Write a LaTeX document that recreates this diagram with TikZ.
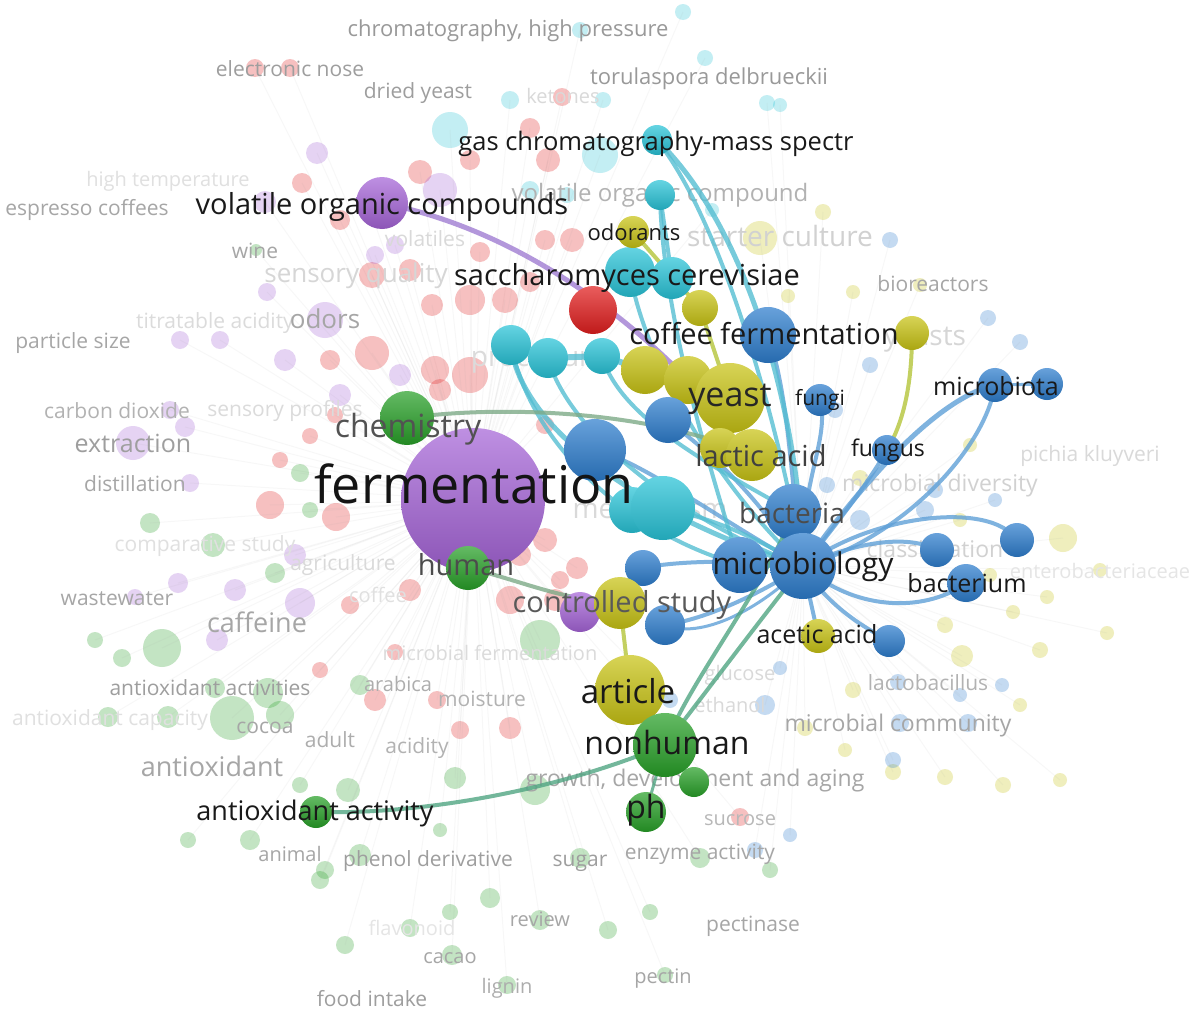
\documentclass[tikz,border=0pt]{standalone}
\usepackage{fontspec}
\setmainfont{Open Sans}
\newcommand\fsz[1]{\fontsize{#1}{#1}\selectfont}
\definecolor{cpur}{RGB}{165,100,215}
\definecolor{cgreen}{RGB}{40,160,40}
\definecolor{cred}{RGB}{225,30,30}
\definecolor{ccyan}{RGB}{40,195,215}
\definecolor{cyel}{RGB}{200,195,20}
\definecolor{cblue}{RGB}{45,125,205}
\definecolor{eblue}{RGB}{95,160,215}
\definecolor{ecyan}{RGB}{85,190,210}
\definecolor{eteal}{RGB}{80,165,130}
\definecolor{epur}{RGB}{160,125,210}
\definecolor{eyel}{RGB}{185,200,70}
\definecolor{egray}{RGB}{125,170,135}
\pgfdeclarelayer{back}\pgfdeclarelayer{mid}\pgfsetlayers{back,mid,main}
\begin{document}
\begin{tikzpicture}[x=1pt,y=-1pt,
  bub/.style 2 args={circle,inner sep=0pt,minimum size=#2,top color=#1!72!white,bottom color=#1!85!black,draw=none},
  fad/.style 2 args={circle,inner sep=0pt,minimum size=#2,fill=#1,fill opacity=0.28,draw=none},
  tx/.style={inner sep=0pt,anchor=base},
  eb/.style={draw=eblue,draw opacity=0.8,line cap=round},
  ec/.style={draw=ecyan,draw opacity=0.8,line cap=round},
  bgl/.style={draw=black!40,draw opacity=0.07,line width=1pt}]
\useasboundingbox (0,0) rectangle (1203,1009);
% ---------- main nodes ----------
\node[bub={cpur}{144pt}] (ferm) at (473,500) {};
\node[bub={cpur}{52pt}] (voc) at (382,203) {};
\node[bub={cpur}{40pt}] (pur2) at (580,612) {};
\node[bub={cgreen}{54pt}] (chem) at (407,418) {};
\node[bub={cgreen}{44pt}] (hum) at (468,568) {};
\node[bub={cred}{48pt}] (red) at (593,310) {};
\node[bub={ccyan}{30pt}] (c1) at (657,140) {};
\node[bub={ccyan}{30pt}] (c2) at (660,195) {};
\node[bub={ccyan}{50pt}] (c3) at (630,272) {};
\node[bub={ccyan}{42pt}] (c4) at (672,278) {};
\node[bub={ccyan}{40pt}] (c5) at (511,345) {};
\node[bub={ccyan}{40pt}] (c6) at (548,358) {};
\node[bub={ccyan}{36pt}] (c7) at (602,356) {};
\node[bub={cyel}{32pt}] (y1) at (633,232) {};
\node[bub={cyel}{36pt}] (y2) at (700,308) {};
\node[bub={cyel}{34pt}] (y3) at (912,333) {};
\node[bub={cyel}{48pt}] (y4) at (645,370) {};
\node[bub={cyel}{48pt}] (y5) at (688,380) {};
\node[bub={cblue}{56pt}] (b1) at (768,335) {};
\node[bub={cblue}{62pt}] (b2) at (595,450) {};
\node[bub={cblue}{46pt}] (b3) at (668,420) {};
\node[bub={cyel}{70pt}] (y6) at (730,398) {};
\node[bub={cyel}{40pt}] (y8) at (720,448) {};
\node[bub={cyel}{52pt}] (y7) at (752,455) {};
\node[bub={ccyan}{46pt}] (c9) at (632,510) {};
\node[bub={ccyan}{64pt}] (c8) at (663,508) {};
\node[bub={cblue}{32pt}] (b4) at (820,400) {};
\node[bub={cblue}{30pt}] (b5) at (887,450) {};
\node[bub={cblue}{34pt}] (b6) at (995,385) {};
\node[bub={cblue}{32pt}] (b7) at (1047,384) {};
\node[bub={cblue}{56pt}] (b8) at (793,512) {};
\node[bub={cblue}{56pt}] (b10) at (740,565) {};
\node[bub={cblue}{66pt}] (b9) at (803,566) {};
\node[bub={cblue}{36pt}] (b11) at (643,568) {};
\node[bub={cblue}{34pt}] (b13) at (937,550) {};
\node[bub={cblue}{34pt}] (b14) at (1017,540) {};
\node[bub={cblue}{38pt}] (b15) at (966,583) {};
\node[bub={cblue}{32pt}] (b16) at (889,641) {};
\node[bub={cyel}{52pt}] (y9) at (620,603) {};
\node[bub={cblue}{40pt}] (b12) at (665,625) {};
\node[bub={cyel}{34pt}] (y11) at (818,636) {};
\node[bub={cyel}{70pt}] (y10) at (630,690) {};
\node[bub={cgreen}{64pt}] (nonh) at (665,745) {};
\node[bub={cgreen}{30pt}] (gs) at (694,782) {};
\node[bub={cgreen}{40pt}] (ph) at (646,812) {};
\node[bub={cgreen}{32pt}] (antiox) at (316,812) {};
% ---------- faded background ----------
\begin{pgfonlayer}{back}
\fill[white] (0,0) rectangle (1203,1009);
\foreach \x/\y/\d/\c [count=\i] in {
255/68/18/cred,290/68/18/cred,562/97/18/cred,548/160/24/cred,530/128/20/cred,470/160/20/cred,302/183/20/cred,340/220/20/cred,370/210/22/cred,420/172/24/cred,372/275/26/cred,410/270/22/cred,432/305/22/cred,470/300/30/cred,505/300/26/cred,530/282/20/cred,545/240/20/cred,572/240/24/cred,480/252/20/cred,440/390/22/cred,470/375/36/cred,435/370/28/cred,372/353/34/cred,330/360/20/cred,335/415/16/cred,310/436/16/cred,270/505/28/cred,336/517/28/cred,280/460/16/cred,500/520/20/cred,520/555/22/cred,545/540/24/cred,577/568/22/cred,555/600/22/cred,510/600/28/cred,410/590/22/cred,350/605/18/cred,375/700/22/cred,437/700/18/cred,460/730/18/cred,510/728/22/cred,320/670/16/cred,395/652/16/cred,740/817/18/cred,560/580/18/cred,545/425/18/cred,
317/153/22/cpur,265/202/22/cpur,267/292/18/cpur,180/340/18/cpur,220/340/18/cpur,325/320/36/cpur,285/360/22/cpur,340/395/22/cpur,400/375/22/cpur,170/410/18/cpur,133/443/34/cpur,185/427/20/cpur,190/483/18/cpur,295/555/22/cpur,235/590/22/cpur,300/603/30/cpur,178/583/20/cpur,135/597/16/cpur,217/640/22/cpur,440/190/34/cpur,375/255/18/cpur,395/245/18/cpur,
150/523/20/cgreen,213/545/24/cgreen,275/573/20/cgreen,162/648/38/cgreen,122/658/18/cgreen,95/640/16/cgreen,232/718/44/cgreen,268/693/30/cgreen,215/688/20/cgreen,280/715/28/cgreen,108/717/20/cgreen,168/717/22/cgreen,360/685/20/cgreen,540/640/40/cgreen,535/790/30/cgreen,455/778/22/cgreen,348/790/24/cgreen,300/785/16/cgreen,325/870/18/cgreen,250/840/20/cgreen,188/840/16/cgreen,360/855/22/cgreen,320/880/18/cgreen,410/928/18/cgreen,345/945/18/cgreen,452/955/20/cgreen,507/985/18/cgreen,540/920/20/cgreen,490/898/20/cgreen,450/912/16/cgreen,608/930/18/cgreen,650/912/16/cgreen,580/858/20/cgreen,665/975/16/cgreen,300/473/18/cgreen,310/510/16/cgreen,256/250/12/cgreen,700/858/20/cgreen,770/870/16/cgreen,440/830/14/cgreen,
450/130/36/ccyan,510/100/18/ccyan,600/155/36/ccyan,603/100/16/ccyan,683/12/16/ccyan,705/58/16/ccyan,767/103/16/ccyan,712/210/14/ccyan,780/105/14/ccyan,580/30/16/ccyan,530/190/18/ccyan,567/195/16/ccyan,
760/238/34/cyel,823/212/16/cyel,853/292/14/cyel,788/296/14/cyel,920/285/14/cyel,860/478/16/cyel,970/445/14/cyel,960/520/14/cyel,1063/538/28/cyel,1100/570/14/cyel,1107/633/14/cyel,1040/650/16/cyel,962/656/22/cyel,1013/612/14/cyel,1047/597/14/cyel,945/625/16/cyel,853/690/16/cyel,805/728/16/cyel,845/750/14/cyel,893/772/16/cyel,945/777/16/cyel,1003/785/16/cyel,1060/780/14/cyel,1020/705/14/cyel,990/575/14/cyel,
890/240/16/cblue,988/318/16/cblue,1020/342/16/cblue,870/365/16/cblue,835/410/16/cblue,827/485/16/cblue,860/520/20/cblue,925/510/18/cblue,995/500/14/cblue,935/490/16/cblue,765/705/20/cblue,780/668/14/cblue,898/682/16/cblue,960/695/14/cblue,1002/685/14/cblue,900/723/18/cblue,968/723/18/cblue,893/760/16/cblue,755/850/16/cblue,790/835/14/cblue,670/700/16/cblue,810/580/16/cblue}
{
  \node[fad={\c}{\d pt}] (f\i) at (\x,\y) {};
  \ifnum\x>750 \draw[bgl] (b9.center) -- (f\i.center);
  \else \draw[bgl] (ferm.center) -- (f\i.center); \fi
}
% faded labels
\foreach \t/\x/\y/\s/\c [count=\i] in {
{chromatography, high pressure}/508/36/22/black!40,
electronic nose/290/76/21/black!38,
dried yeast/418/98/21/black!38,
torulaspora delbrueckii/709/84/22/black!40,
ketones/563/103/20/black!15,
high temperature/168/186/20/black!12,
espresso coffees/87/215/21/black!35,
volatile organic compound/660/201/24/black!30,
starter culture/780/246/28/black!18,
volatiles/425/246/21/black!15,
wine/255/258/21/black!35,
sensory quality/356/282/26/black!16,
bioreactors/933/291/21/black!35,
titratable acidity/215/328/21/black!14,
odors/325/328/26/black!35,
particle size/73/348/21/black!35,
yeasts/925/345/28/black!16,
procedures/545/366/28/black!14,
carbon dioxide/117/418/21/black!30,
sensory profiles/285/416/21/black!14,
extraction/133/452/25/black!38,
distillation/135/491/21/black!35,
pichia kluyveri/1090/461/21/black!15,
microbial diversity/940/491/23/black!18,
metabolism/650/518/28/black!15,
comparative study/205/551/21/black!12,
agriculture/343/570/21/black!15,
classification/935/557/23/black!18,
enterobacteriaceae/1100/578/20/black!10,
wastewater/117/605/21/black!35,
caffeine/257/632/27/black!35,
coffee/378/602/20/black!12,
microbial fermentation/490/660/20/black!14,
antioxidant activities/210/695/21/black!38,
arabica/398/691/20/black!32,
moisture/482/706/21/black!30,
glucose/740/680/20/black!15,
lactobacillus/928/690/21/black!30,
ethanol/730/712/20/black!15,
antioxidant capacity/110/725/21/black!12,
cocoa/265/733/21/black!35,
adult/330/747/21/black!32,
acidity/417/753/21/black!30,
microbial community/898/731/23/black!35,
antioxidant/212/776/27/black!35,
{growth, development and aging}/695/786/23/black!35,
sucrose/740/825/20/black!28,
animal/290/861/20/black!35,
phenol derivative/428/866/21/black!38,
sugar/580/866/21/black!38,
enzyme activity/700/859/21/black!35,
flavonoid/412/935/20/black!10,
review/540/926/20/black!35,
pectinase/753/931/21/black!35,
cacao/450/963/20/black!35,
lignin/507/993/20/black!32,
pectin/663/983/20/black!35,
food intake/372/1006/21/black!38}
{
  \node[tx,text=\c,font=\fsz{\s}] (t\i) at (\x,\y) {\t};
}
\end{pgfonlayer}
% ---------- edges ----------
\begin{pgfonlayer}{mid}
% blue
\draw[eb,line width=5pt] (b9.center) .. controls (850,500) and (930,400) .. (b6.center);
\draw[eb,line width=4pt] (b9.center) .. controls (900,540) and (985,450) .. (b6.center);
\draw[eb,line width=3pt] (b6.center) -- (b7.center);
\draw[eb,line width=4pt] (b9.center) .. controls (840,520) and (870,480) .. (b5.center);
\draw[eb,line width=4pt] (b9.center) .. controls (800,480) and (830,440) .. (b4.center);
\draw[eb,line width=4pt] (b9.center) .. controls (790,480) and (790,400) .. (b1.center);
\draw[eb,line width=4pt] (b9.center) .. controls (870,515) and (990,500) .. (b14.center);
\draw[eb,line width=4pt] (b9.center) .. controls (860,540) and (910,535) .. (b13.center);
\draw[eb,line width=4pt] (b9.center) .. controls (860,615) and (930,610) .. (b15.center);
\draw[eb,line width=4pt] (b9.center) .. controls (830,610) and (870,630) .. (b16.center);
\draw[eb,line width=4pt] (b9.center) .. controls (810,600) and (815,620) .. (y11.center);
\draw[eb,line width=4pt] (b9.center) .. controls (750,600) and (700,620) .. (b12.center);
\draw[eb,line width=4pt] (b9.center) .. controls (750,560) and (680,560) .. (b11.center);
\draw[eb,line width=5pt] (b9.center) -- (b10.center);
\draw[eb,line width=4pt] (b9.center) .. controls (740,470) and (690,440) .. (b3.center);
\draw[eb,line width=4pt] (b9.center) .. controls (720,520) and (640,460) .. (b2.center);
\draw[eb,line width=3pt] (b12.center) .. controls (700,640) and (760,610) .. (b9.center);
% cyan
\draw[ec,line width=5pt] (c1.center) .. controls (750,230) and (800,420) .. (b9.center);
\draw[ec,line width=4pt] (c1.center) .. controls (720,220) and (770,400) .. (b8.center);
\draw[ec,line width=4pt] (c2.center) -- (c4.center);
\draw[ec,line width=4pt] (c2.center) .. controls (662,300) and (700,440) .. (b10.center);
\draw[ec,line width=4pt] (c3.center) .. controls (640,340) and (700,470) .. (b9.center);
\draw[ec,line width=5pt] (c5.center) .. controls (520,430) and (650,520) .. (b9.center);
\draw[ec,line width=4pt] (c5.center) .. controls (530,440) and (620,530) .. (b10.center);
\draw[ec,line width=4pt] (c6.center) .. controls (570,440) and (700,530) .. (b9.center);
\draw[ec,line width=4pt] (c7.center) .. controls (620,420) and (720,470) .. (b8.center);
\draw[ec,line width=6pt] (c5.center) -- (c6.center) -- (c7.center) -- (y4.center);
\draw[ec,line width=4pt] (c8.center) .. controls (720,520) and (760,540) .. (b9.center);
% others
\draw[draw=epur,draw opacity=0.8,line width=5pt] (voc.center) .. controls (470,220) and (580,270) .. (y5.center);
\draw[draw=egray,draw opacity=0.8,line width=4pt] (chem.center) .. controls (500,405) and (650,410) .. (y7.center);
\draw[draw=egray,draw opacity=0.8,line width=4pt] (hum.center) .. controls (520,580) and (560,600) .. (y9.center);
\draw[draw=eteal,draw opacity=0.8,line width=4pt] (antiox.center) .. controls (420,815) and (560,790) .. (nonh.center);
\draw[draw=eteal,draw opacity=0.8,line width=4pt] (nonh.center) .. controls (700,700) and (760,620) .. (b9.center);
\draw[draw=eteal,draw opacity=0.8,line width=4pt] (nonh.center) .. controls (690,680) and (770,580) .. (b8.center);
\draw[draw=eteal,draw opacity=0.8,line width=3pt] (nonh.center) -- (ph.center);
\draw[draw=eteal,draw opacity=0.8,line width=3pt] (nonh.center) -- (gs.center);
\draw[draw=eyel,draw opacity=0.85,line width=4pt] (y3.center) .. controls (912,380) and (905,420) .. (b5.center);
\draw[draw=eyel,draw opacity=0.85,line width=4pt] (y1.center) -- (y2.center) -- (y6.center);
\draw[draw=eyel,draw opacity=0.85,line width=4pt] (y10.center) -- (y9.center);
\draw[draw=eyel,draw opacity=0.85,line width=3pt] (y9.center) -- (pur2.center);
\end{pgfonlayer}
% ---------- main labels ----------
\node[tx,text=black!92,font=\fsz{52}] (lferm) at (474,503) {fermentation};
\node[tx,text=black!90,font=\fsz{29}] (lvoc) at (382,214) {volatile organic compounds};
\node[tx,text=black!90,font=\fsz{25.5}] (lgcms) at (656,150) {gas chromatography-mass spectr};
\node[tx,text=black!90,font=\fsz{29}] (lsacc) at (627,285) {saccharomyces cerevisiae};
\node[tx,text=black!90,font=\fsz{22}] (lodor) at (634,240) {odorants};
\node[tx,text=black!90,font=\fsz{29}] (lcf) at (764,344) {coffee fermentation};
\node[tx,text=black!85,font=\fsz{34}] (lyeast) at (730,406) {yeast};
\node[tx,text=black!90,font=\fsz{21}] (lfungi) at (820,405) {fungi};
\node[tx,text=black!90,font=\fsz{25}] (lmbiota) at (996,395) {microbiota};
\node[tx,text=black!68,font=\fsz{32}] (lchem) at (408,437) {chemistry};
\node[tx,text=black!75,font=\fsz{29}] (llact) at (761,466) {lactic acid};
\node[tx,text=black!90,font=\fsz{23}] (lfungus) at (888,456) {fungus};
\node[tx,text=black!70,font=\fsz{28}] (lbact) at (792,523) {bacteria};
\node[tx,text=black!90,font=\fsz{30}] (lmicro) at (803,574) {microbiology};
\node[tx,text=black!90,font=\fsz{25}] (lbacterium) at (967,592) {bacterium};
\node[tx,text=black!70,font=\fsz{29}] (lhum) at (466,575) {human};
\node[tx,text=black!65,font=\fsz{29}] (lcs) at (622,612) {controlled study};
\node[tx,text=black!90,font=\fsz{25}] (lacet) at (817,643) {acetic acid};
\node[tx,text=black!90,font=\fsz{33}] (lart) at (628,703) {article};
\node[tx,text=black!90,font=\fsz{32}] (lnonh) at (667,754) {nonhuman};
\node[tx,text=black!90,font=\fsz{32}] (lph) at (646,818) {ph};
\node[tx,text=black!90,font=\fsz{27}] (lanti) at (315,820) {antioxidant activity};
\end{tikzpicture}
\end{document}
